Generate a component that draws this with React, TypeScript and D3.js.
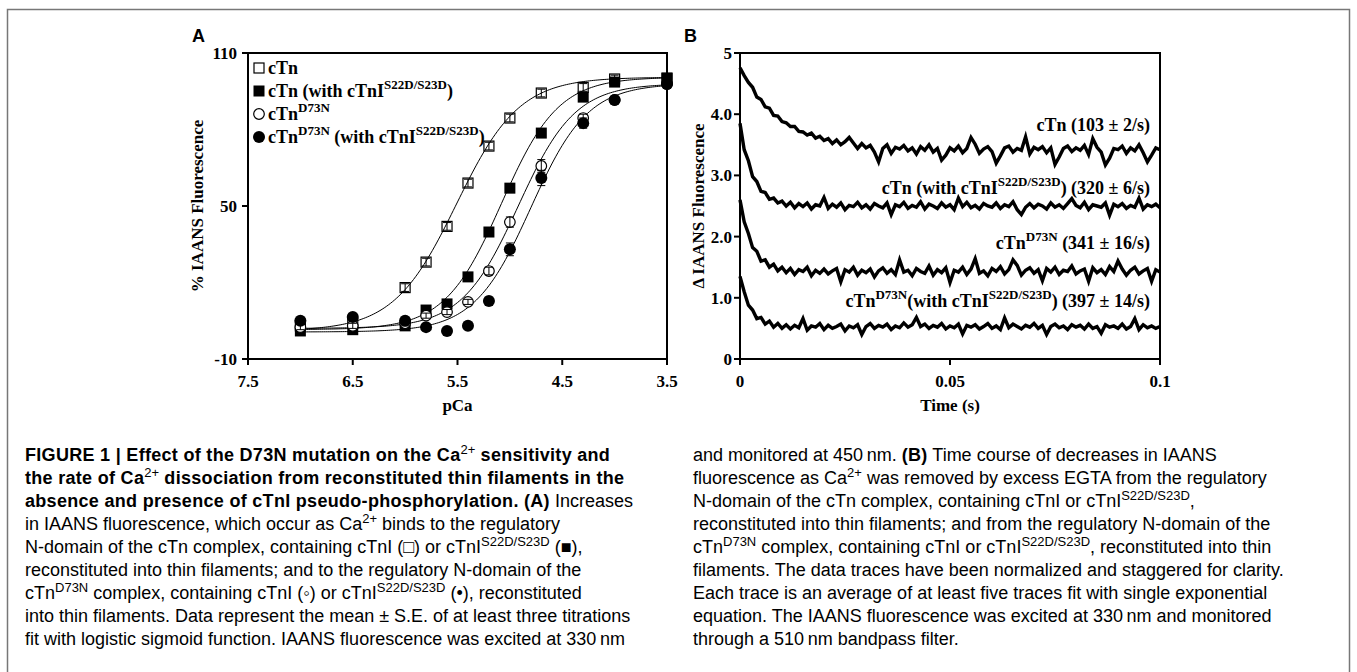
import React from 'react';
import * as d3 from 'd3';

// ---- panel A: steady-state Ca2+ titrations ----
const pCaValues = [7.0, 6.5, 6.0, 5.8, 5.6, 5.4, 5.2, 5.0, 4.7, 4.3, 4.0, 3.5];
const cTnVals = [3, 4, 18, 28, 42, 59, 73.5, 84.5, 94.3, 96.5, 99.8, 100.2];
const cTnPPVals = [1, 1.5, 3, 9.2, 11.6, 22.2, 39.8, 57, 78.6, 92.7, 98.6, 100];
const d73nVals = [2.5, 3, 4, 7, 8.4, 12.4, 24.5, 43.7, 65.7, 84.5, 91.6, 97.8];
const d73nPPVals = [5, 6.5, 5, 2.5, 1, 3, 12.7, 33, 61, 82.5, 91.6, 97.8];
const cTnErr = [1.5, 1.5, 1.5, 1.5, 1.5, 1.5, 1.5, 1.5, 1.5, 1.5, 1.5, 1.5];
const cTnPPErr = [1, 1, 1, 1, 1, 1, 1, 1.5, 1.5, 1, 1, 1];
const d73nErr = [1, 1, 1, 1, 1, 1, 1.5, 2, 2.5, 1.5, 1, 1];
const d73nPPErr = [1, 1, 1, 1, 1, 1, 1.5, 2.5, 3, 2, 1, 1];

// logistic fits: bottom, top, pCa50, hill
const fitBottom = [1, 1.5, 2, 0.6];
const fitTop = [100.5, 100.5, 98, 98];
const fitPCa50 = [5.51, 5.08, 4.92, 4.8];
const fitHill = [1.45, 1.6, 1.6, 1.6];
const fitRange = [7.0, 3.5];

const yTicksA = [-10, 50, 110];
const xTicksA = [7.5, 6.5, 5.5, 4.5, 3.5];

// ---- panel B: stopped-flow traces, one reading per ms ----
const traceStep = 0.001;
const traceCTn = [
  4.76, 4.63, 4.52, 4.44, 4.28, 4.24, 4.12, 4.10, 3.98, 3.97, 3.88,
  3.86, 3.80, 3.80, 3.72, 3.71, 3.66, 3.69, 3.61, 3.64, 3.57,
  3.60, 3.52, 3.58, 3.50, 3.55, 3.62, 3.53, 3.44, 3.52, 3.45,
  3.49, 3.38, 3.22, 3.44, 3.50, 3.36, 3.46, 3.43, 3.49, 3.40,
  3.45, 3.35, 3.47, 3.41, 3.50, 3.38, 3.44, 3.25, 3.33, 3.45,
  3.40, 3.48, 3.37, 3.44, 3.62, 3.51, 3.36, 3.43, 3.47, 3.39,
  3.20, 3.32, 3.45, 3.48, 3.38, 3.44, 3.41, 3.63, 3.35, 3.46,
  3.42, 3.47, 3.37, 3.45, 3.18, 3.30, 3.44, 3.48, 3.39, 3.45,
  3.41, 3.49, 3.34, 3.60, 3.46, 3.38, 3.17, 3.28, 3.44, 3.42,
  3.48, 3.36, 3.45, 3.40, 3.50, 3.37, 3.22, 3.33, 3.45, 3.42,
];
const traceCTnPP = [
  3.85, 3.42, 3.24, 2.98, 2.90, 2.74, 2.72, 2.61, 2.63, 2.55, 2.58,
  2.50, 2.56, 2.47, 2.54, 2.49, 2.55, 2.45, 2.52, 2.50, 2.64,
  2.46, 2.53, 2.48, 2.55, 2.44, 2.51, 2.49, 2.56, 2.47, 2.52,
  2.45, 2.54, 2.50, 2.47, 2.55, 2.36, 2.52, 2.49, 2.56, 2.46,
  2.51, 2.48, 2.57, 2.45, 2.53, 2.50, 2.46, 2.55, 2.48, 2.52,
  2.44, 2.63, 2.49, 2.56, 2.47, 2.51, 2.45, 2.54, 2.50, 2.48,
  2.55, 2.46, 2.52, 2.49, 2.57, 2.44, 2.36, 2.48, 2.54, 2.47,
  2.53, 2.50, 2.45, 2.55, 2.48, 2.52, 2.46, 2.54, 2.62, 2.51,
  2.47, 2.56, 2.44, 2.52, 2.50, 2.48, 2.55, 2.35, 2.53, 2.49,
  2.54, 2.46, 2.51, 2.48, 2.63, 2.45, 2.52, 2.49, 2.53, 2.47,
];
const traceD73N = [
  2.60, 2.24, 2.05, 1.82, 1.76, 1.60, 1.62, 1.50, 1.55, 1.44, 1.50,
  1.41, 1.48, 1.38, 1.46, 1.43, 1.50, 1.36, 1.45, 1.40, 1.47,
  1.39, 1.44, 1.48, 1.26, 1.46, 1.42, 1.50, 1.37, 1.45, 1.41,
  1.47, 1.34, 1.44, 1.49, 1.40, 1.46, 1.38, 1.62, 1.42, 1.45,
  1.36, 1.48, 1.43, 1.40, 1.52, 1.37, 1.46, 1.41, 1.49, 1.25,
  1.45, 1.42, 1.50, 1.38, 1.47, 1.64, 1.40, 1.44, 1.36, 1.48,
  1.43, 1.51, 1.39, 1.46, 1.62, 1.53, 1.37, 1.45, 1.49, 1.40,
  1.46, 1.28, 1.48, 1.42, 1.50, 1.38, 1.45, 1.43, 1.52, 1.39,
  1.44, 1.47, 1.27, 1.49, 1.41, 1.46, 1.38, 1.51, 1.43, 1.60,
  1.47, 1.37, 1.45, 1.50, 1.39, 1.44, 1.48, 1.27, 1.46, 1.42,
];
const traceD73NPP = [
  1.35, 1.10, 0.88, 0.80, 0.66, 0.68, 0.57, 0.62, 0.52, 0.58, 0.50,
  0.56, 0.49, 0.55, 0.51, 0.66, 0.47, 0.54, 0.52, 0.58, 0.48,
  0.55, 0.50, 0.53, 0.57, 0.46, 0.54, 0.51, 0.56, 0.40, 0.53,
  0.58, 0.50, 0.55, 0.52, 0.57, 0.48, 0.54, 0.51, 0.59, 0.52,
  0.56, 0.68, 0.53, 0.57, 0.50, 0.55, 0.52, 0.58, 0.49, 0.54,
  0.51, 0.57, 0.41, 0.55, 0.52, 0.56, 0.49, 0.53, 0.58, 0.50,
  0.54, 0.48, 0.67, 0.51, 0.57, 0.53, 0.49, 0.55, 0.52, 0.58,
  0.50, 0.55, 0.40, 0.53, 0.57, 0.51, 0.54, 0.48, 0.56, 0.52,
  0.55, 0.49, 0.57, 0.50, 0.53, 0.42, 0.56, 0.52, 0.54, 0.50,
  0.57, 0.49, 0.53, 0.66, 0.48, 0.56, 0.51, 0.54, 0.50, 0.53,
];
const traceLabelY = [3.73, 2.7, 1.8, 0.85];
const yTicksB = [0, 1, 2, 3, 4, 5];
const yTickLabelsB = ['0', '1.0', '2.0', '3.0', '4.0', '5'];
const xTicksB = [0, 0.05, 0.1];
const xTickLabelsB = ['0', '0.05', '0.1'];

const SERIF = '"Liberation Serif", "Times New Roman", serif';
const SANS = '"Liberation Sans", Arial, sans-serif';
const NARROW = '"Liberation Sans Narrow", "Liberation Sans", sans-serif';

type Seg = { t: string; b?: boolean; sup?: boolean };

const Rich = ({ x, y, segs, size, supSize, rise, anchor = 'start', family, boldFamily, bold = false, boldSpacing = 0 }:
  { x: number; y: number; segs: Seg[]; size: number; supSize: number; rise: number; anchor?: string; family: string; boldFamily?: string; bold?: boolean; boldSpacing?: number }) => {
  let raised = false;
  const parts = segs.map((s, i) => {
    let dy = 0;
    if (s.sup && !raised) { dy = -rise; raised = true; }
    else if (!s.sup && raised) { dy = rise; raised = false; }
    const isBold = bold || s.b;
    return (
      <tspan key={i} dy={dy || undefined} fontSize={s.sup ? supSize : size}
        fontWeight={isBold ? 'bold' : 'normal'}
        letterSpacing={s.b ? boldSpacing : 0}
        fontFamily={isBold && boldFamily ? boldFamily : family}>{s.t}</tspan>
    );
  });
  return <text x={x} y={y} textAnchor={anchor as any} fontFamily={family} fontSize={size} style={{ whiteSpace: 'pre' }}>{parts}</text>;
};

const capLeft: Seg[][] = [
  [{ t: 'FIGURE 1 | Effect of the D73N mutation on the Ca', b: true }, { t: '2+', sup: true }, { t: ' sensitivity and', b: true }],
  [{ t: 'the rate of Ca', b: true }, { t: '2+', sup: true }, { t: ' dissociation from reconstituted thin filaments in the', b: true }],
  [{ t: 'absence and presence of cTnI pseudo-phosphorylation. (A)', b: true }, { t: ' Increases' }],
  [{ t: 'in IAANS fluorescence, which occur as Ca' }, { t: '2+', sup: true }, { t: ' binds to the regulatory' }],
  [{ t: 'N-domain of the cTn complex, containing cTnI (\u25A1) or cTnI' }, { t: 'S22D/S23D', sup: true }, { t: ' (\u25A0),' }],
  [{ t: 'reconstituted into thin filaments; and to the regulatory N-domain of the' }],
  [{ t: 'cTn' }, { t: 'D73N', sup: true }, { t: ' complex, containing cTnI (\u25E6) or cTnI' }, { t: 'S22D/S23D', sup: true }, { t: ' (\u2022), reconstituted' }],
  [{ t: 'into thin filaments. Data represent the mean \u00B1 S.E. of at least three titrations' }],
  [{ t: 'fit with logistic sigmoid function. IAANS fluorescence was excited at 330\u2009nm' }],
];
const capRight: Seg[][] = [
  [{ t: 'and monitored at 450\u2009nm. ' }, { t: '(B)', b: true }, { t: ' Time course of decreases in IAANS' }],
  [{ t: 'fluorescence as Ca' }, { t: '2+', sup: true }, { t: ' was removed by excess EGTA from the regulatory' }],
  [{ t: 'N-domain of the cTn complex, containing cTnI or cTnI' }, { t: 'S22D/S23D', sup: true }, { t: ',' }],
  [{ t: 'reconstituted into thin filaments; and from the regulatory N-domain of the' }],
  [{ t: 'cTn' }, { t: 'D73N', sup: true }, { t: ' complex, containing cTnI or cTnI' }, { t: 'S22D/S23D', sup: true }, { t: ', reconstituted into thin' }],
  [{ t: 'filaments. The data traces have been normalized and staggered for clarity.' }],
  [{ t: 'Each trace is an average of at least five traces fit with single exponential' }],
  [{ t: 'equation. The IAANS fluorescence was excited at 330\u2009nm and monitored' }],
  [{ t: 'through a 510\u2009nm bandpass filter.' }],
];

const legendA: Seg[][] = [
  [{ t: 'cTn' }],
  [{ t: 'cTn (with cTnI' }, { t: 'S22D/S23D', sup: true }, { t: ')' }],
  [{ t: 'cTn' }, { t: 'D73N', sup: true }],
  [{ t: 'cTn' }, { t: 'D73N', sup: true }, { t: ' (with cTnI' }, { t: 'S22D/S23D', sup: true }, { t: ')' }],
];
const traceLabels: Seg[][] = [
  [{ t: 'cTn (103 \u00B1 2/s)' }],
  [{ t: 'cTn (with cTnI' }, { t: 'S22D/S23D', sup: true }, { t: ') (320 \u00B1 6/s)' }],
  [{ t: 'cTn' }, { t: 'D73N', sup: true }, { t: ' (341 \u00B1 16/s)' }],
  [{ t: 'cTn' }, { t: 'D73N', sup: true }, { t: '(with cTnI' }, { t: 'S22D/S23D', sup: true }, { t: ') (397 \u00B1 14/s)' }],
];

const Marker = ({ kind, x, y }: { kind: number; x: number; y: number }) => {
  if (kind === 0) return <rect x={x - 5} y={y - 5} width={10} height={10} fill="white" fillOpacity={0} stroke="#000" strokeWidth={1.2} />;
  if (kind === 1) return <rect x={x - 5.5} y={y - 5.5} width={11} height={11} fill="#000" />;
  if (kind === 2) return <circle cx={x} cy={y} r={5.3} fill="white" stroke="#000" strokeWidth={1.2} />;
  return <circle cx={x} cy={y} r={6} fill="#000" />;
};

export default function App() {
  const xA = d3.scaleLinear().domain([7.5, 3.5]).range([248, 667]);
  const yA = d3.scaleLinear().domain([-10, 110]).range([359, 53]);
  const xB = d3.scaleLinear().domain([0, 0.1]).range([740, 1160]);
  const yB = d3.scaleLinear().domain([0, 5]).range([359, 53]);

  const seriesA = [cTnVals, cTnPPVals, d73nVals, d73nPPVals];
  const errsA = [cTnErr, cTnPPErr, d73nErr, d73nPPErr];

  // fitted logistic curves, evaluated along the pCa axis
  const curves = fitPCa50.map((mid, k) => {
    const pts = d3.range(fitRange[0], fitRange[1] - 0.001, -0.02).concat([fitRange[1]]);
    return d3.line<number>()
      .x((p) => xA(p))
      .y((p) => yA(fitBottom[k] + (fitTop[k] - fitBottom[k]) / (1 + Math.pow(10, fitHill[k] * (p - mid)))))(pts);
  });

  const traces = [traceCTn, traceCTnPP, traceD73N, traceD73NPP];
  const traceLine = d3.line<number>().x((_, i) => xB(i * traceStep)).y((v) => yB(v));

  const tickFont = { fontFamily: SERIF, fontWeight: 'bold' as const, fontSize: 17 };

  return (
    <svg width={1357} height={672} style={{ position: 'absolute', left: 0, top: 0, background: '#fff' }}>
      <rect x={7.5} y={9.5} width={1342} height={700} fill="none" stroke="#777" strokeWidth={1.5} />

      {/* Panel A */}
      <text x={192} y={42} fontFamily={SANS} fontWeight="bold" fontSize={18}>A</text>
      {curves.map((d, k) => <path key={k} d={d || ''} fill="none" stroke="#000" strokeWidth={1} />)}
      {seriesA.map((vals, k) => (
        <g key={k}>
          {vals.map((v, i) => (
            <Marker key={i} kind={k} x={xA(pCaValues[i])} y={yA(v)} />
          ))}
          {vals.map((v, i) => {
            const cx = xA(pCaValues[i]);
            const e = errsA[k][i];
            return (
              <g key={'e' + i} stroke="#000" strokeWidth={1}>
                <line x1={cx} x2={cx} y1={yA(v + e)} y2={yA(v - e)} />
                <line x1={cx - 4} x2={cx + 4} y1={yA(v + e)} y2={yA(v + e)} />
                <line x1={cx - 4} x2={cx + 4} y1={yA(v - e)} y2={yA(v - e)} />
              </g>
            );
          })}
        </g>
      ))}
      <rect x={xA(7.5)} y={yA(110)} width={xA(3.5) - xA(7.5)} height={yA(-10) - yA(110)} fill="none" stroke="#000" strokeWidth={2} />
      {yTicksA.map((t) => (
        <g key={t}>
          <line x1={xA(7.5) - 6} x2={xA(7.5)} y1={yA(t)} y2={yA(t)} stroke="#000" strokeWidth={2} />
          <text x={xA(7.5) - 11} y={yA(t) + 6} textAnchor="end" {...tickFont}>{t}</text>
        </g>
      ))}
      {xTicksA.map((t) => (
        <g key={t}>
          <line x1={xA(t)} x2={xA(t)} y1={yA(-10)} y2={yA(-10) + 6} stroke="#000" strokeWidth={2} />
          <text x={xA(t)} y={387} textAnchor="middle" {...tickFont}>{t.toFixed(1)}</text>
        </g>
      ))}
      <text x={(xA(7.5) + xA(3.5)) / 2} y={411} textAnchor="middle" {...tickFont}>pCa</text>
      <text transform={`translate(203,${yA(50)}) rotate(-90)`} textAnchor="middle" {...tickFont}>% IAANS Fluorescence</text>
      {legendA.map((segs, k) => (
        <g key={k}>
          <Marker kind={k} x={259} y={68 + k * 23} />
          <Rich x={268} y={74 + k * 23} segs={segs} size={18} supSize={13} rise={8} family={SERIF} bold />
        </g>
      ))}

      {/* Panel B */}
      <text x={684} y={42} fontFamily={SANS} fontWeight="bold" fontSize={18}>B</text>
      {traces.map((tr, k) => (
        <path key={k} d={traceLine(tr) || ''} fill="none" stroke="#000" strokeWidth={3.4} strokeLinejoin="miter" />
      ))}
      <rect x={xB(0)} y={yB(5)} width={xB(0.1) - xB(0)} height={yB(0) - yB(5)} fill="none" stroke="#000" strokeWidth={2} />
      {yTicksB.map((t, i) => (
        <g key={t}>
          <line x1={xB(0) - 6} x2={xB(0)} y1={yB(t)} y2={yB(t)} stroke="#000" strokeWidth={2} />
          <text x={xB(0) - 8} y={yB(t) + 6} textAnchor="end" {...tickFont}>{yTickLabelsB[i]}</text>
        </g>
      ))}
      {xTicksB.map((t, i) => (
        <g key={t}>
          <line x1={xB(t)} x2={xB(t)} y1={yB(0)} y2={yB(0) + 6} stroke="#000" strokeWidth={2} />
          <text x={xB(t)} y={387} textAnchor="middle" {...tickFont}>{xTickLabelsB[i]}</text>
        </g>
      ))}
      <text x={(xB(0) + xB(0.1)) / 2} y={411} textAnchor="middle" {...tickFont}>Time (s)</text>
      <text transform={`translate(704,${yB(2.5)}) rotate(-90)`} textAnchor="middle" {...tickFont}>{'\u0394 IAANS Fluorescence'}</text>
      {traceLabels.map((segs, k) => (
        <Rich key={k} x={1150} y={yB(traceLabelY[k])} segs={segs} size={18} supSize={13} rise={8} family={SERIF} bold anchor="end" />
      ))}

      {/* Caption */}
      {capLeft.map((segs, i) => (
        <Rich key={'l' + i} x={25} y={461 + i * 23} segs={segs} size={18} supSize={13} rise={7} family={NARROW} boldFamily={SANS} boldSpacing={0.3} />
      ))}
      {capRight.map((segs, i) => (
        <Rich key={'r' + i} x={693} y={461 + i * 23} segs={segs} size={18} supSize={13} rise={7} family={NARROW} boldFamily={SANS} boldSpacing={0.3} />
      ))}
    </svg>
  );
}
